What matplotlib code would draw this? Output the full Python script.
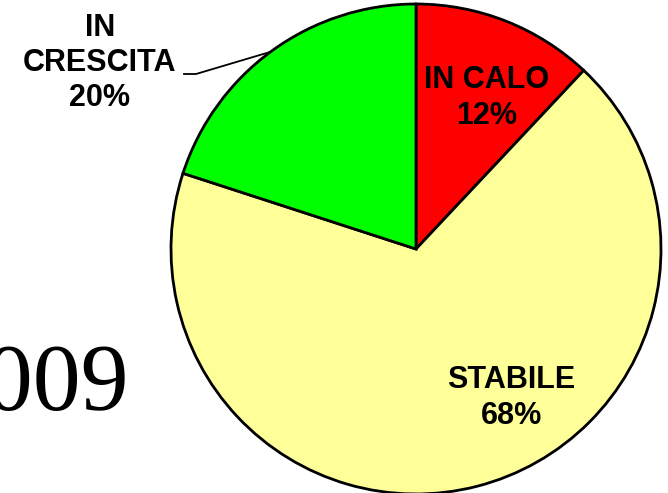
import matplotlib.pyplot as plt

# slices go clockwise from the top
labels = ["IN CALO\n12%", "STABILE\n68%", "IN\nCRESCITA\n20%"]
shares = [12, 68, 20]
colors = ["#FF0000", "#FFFF99", "#00FF00"]

fig = plt.figure(figsize=(6.68, 4.93), dpi=100)
ax = fig.add_axes([0, 0, 1, 1])

# pixel coords, y measured from bottom
cx, cy, r = 416, 244, 245

wedges, _ = ax.pie(shares, colors=colors, startangle=90, counterclock=False,
                   center=(cx, cy), radius=r, frame=True,
                   wedgeprops=dict(edgecolor="black", linewidth=2.0))
ax.set_xlim(0, 668)
ax.set_ylim(0, 493)
ax.set_aspect("equal")
ax.axis("off")

font = dict(family="Liberation Sans", fontweight="bold", fontsize=22,
            ha="center", va="center", linespacing=1.22)
ax.text(487, 493 - 98, labels[0], **font)
ax.text(511, 493 - 398, labels[1], **font)
ax.text(100, 493 - 63, labels[2], **font)

# leader line for the green slice
ax.plot([184, 196, 270], [493 - 74, 493 - 74, 493 - 52], color="black", lw=1.3)

# the "2" falls off the left edge, as in the original slide
ax.text(129, 493 - 410, "2009", family="Liberation Serif", fontsize=69,
        ha="right", va="baseline")

fig.savefig("out.png", dpi=100)
